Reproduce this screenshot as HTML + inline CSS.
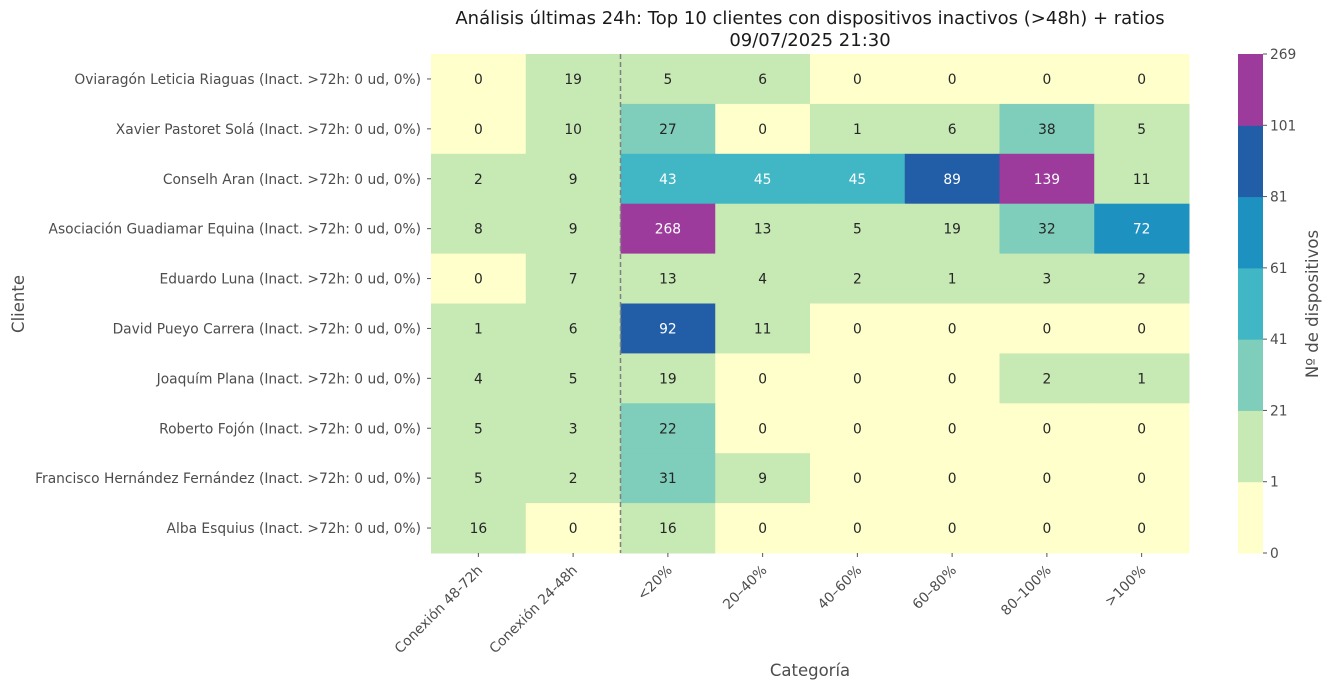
<!DOCTYPE html>
<html><head><meta charset="utf-8"><style>
body{margin:0;background:#fff;}
svg{font-family:"DejaVu Sans","Liberation Sans",sans-serif;}
</style></head><body>
<svg id="c" width="1332" height="690"></svg>
<script>
const clients=["Oviaragón Leticia Riaguas (Inact. >72h: 0 ud, 0%)","Xavier Pastoret Solá (Inact. >72h: 0 ud, 0%)","Conselh Aran (Inact. >72h: 0 ud, 0%)","Asociación Guadiamar Equina (Inact. >72h: 0 ud, 0%)","Eduardo Luna (Inact. >72h: 0 ud, 0%)","David Pueyo Carrera (Inact. >72h: 0 ud, 0%)","Joaquím Plana (Inact. >72h: 0 ud, 0%)","Roberto Fojón (Inact. >72h: 0 ud, 0%)","Francisco Hernández Fernández (Inact. >72h: 0 ud, 0%)","Alba Esquius (Inact. >72h: 0 ud, 0%)"];
const categories=["Conexión 48-72h","Conexión 24-48h","<20%","20–40%","40–60%","60–80%","80–100%",">100%"];
const values=[
[0,19,5,6,0,0,0,0],
[0,10,27,0,1,6,38,5],
[2,9,43,45,45,89,139,11],
[8,9,268,13,5,19,32,72],
[0,7,13,4,2,1,3,2],
[1,6,92,11,0,0,0,0],
[4,5,19,0,0,0,2,1],
[5,3,22,0,0,0,0,0],
[5,2,31,9,0,0,0,0],
[16,0,16,0,0,0,0,0]];
const bounds=[0,1,21,41,61,81,101,269];
const colors=["#ffffcc","#c7e9b4","#7fcdbb","#41b6c4","#1d91c0","#225ea8","#9c3b9c"];
const NS="http://www.w3.org/2000/svg",svg=document.getElementById('c');
function el(t,a,txt){const e=document.createElementNS(NS,t);for(const k in a)e.setAttribute(k,a[k]);if(txt!=null)e.textContent=txt;svg.appendChild(e);return e;}
const X0=431,X1=1189,Y0=54,Y1=553;
const FS=13.8;
const cw=(X1-X0)/categories.length,rh=(Y1-Y0)/clients.length;
const xs=i=>X0+i*cw, ys=j=>Y0+j*rh;
function bin(v){for(let k=bounds.length-2;k>=0;k--)if(v>=bounds[k])return k;return 0;}
values.forEach((row,j)=>row.forEach((v,i)=>{
 const b=bin(v);
 const r=el('rect',{x:xs(i),y:ys(j),width:cw+0.5,height:rh+0.5,fill:colors[b]});
 
 
 const t=el('text',{x:xs(i)+cw/2,y:ys(j)+rh/2+5,'text-anchor':'middle','font-size':FS,fill:b>=3?'#fff':'#262626'},v);
 
 
}));
const dl=el('line',{x1:xs(2),x2:xs(2),y1:Y0,y2:Y1,stroke:'#808080','stroke-width':1.5,'stroke-dasharray':'5,3'});

clients.forEach((c,j)=>{
 const y=ys(j)+rh/2;
 el('line',{x1:X0-4,x2:X0,y1:y,y2:y,stroke:'#555'});
 const t=el('text',{x:X0-10,y:y+5,'text-anchor':'end','font-size':FS,fill:'#4d4d4d'},c);
 
});
categories.forEach((c,i)=>{
 const x=xs(i)+cw/2;
 el('line',{x1:x,x2:x,y1:Y1,y2:Y1+4,stroke:'#555'});
 const t=el('text',{x:x+5,y:Y1+18,'text-anchor':'end','font-size':FS,fill:'#4d4d4d',transform:`rotate(-45 ${x+5} ${Y1+18})`},c);
 
});
let t=el('text',{x:810,y:676,'text-anchor':'middle','font-size':16.5,fill:'#4d4d4d'},'Categoría');

t=el('text',{x:24,y:304,'text-anchor':'middle','font-size':16.5,fill:'#4d4d4d',transform:'rotate(-90 24 304)'},'Cliente');

t=el('text',{x:810,y:24,'text-anchor':'middle','font-size':18,fill:'#1a1a1a'},'Análisis últimas 24h: Top 10 clientes con dispositivos inactivos (>48h) + ratios');

t=el('text',{x:810,y:46,'text-anchor':'middle','font-size':18,fill:'#1a1a1a'},'09/07/2025 21:30');

const CX=1238,CW=25,n=colors.length,sh=(Y1-Y0)/n;
colors.forEach((col,k)=>{
 const r=el('rect',{x:CX,y:Y1-(k+1)*sh,width:CW,height:sh+0.5,fill:col});
 
});
bounds.forEach((b,k)=>{
 const y=Y1-k*sh;
 el('line',{x1:CX+CW,x2:CX+CW+4,y1:y,y2:y,stroke:'#555'});
 const tt=el('text',{x:CX+CW+7,y:y+5,'font-size':FS,fill:'#4d4d4d'},b);
 
});
t=el('text',{x:1318,y:304,'text-anchor':'middle','font-size':16.5,fill:'#4d4d4d',transform:'rotate(-90 1318 304)'},'Nº de dispositivos');

</script>
</body></html>
